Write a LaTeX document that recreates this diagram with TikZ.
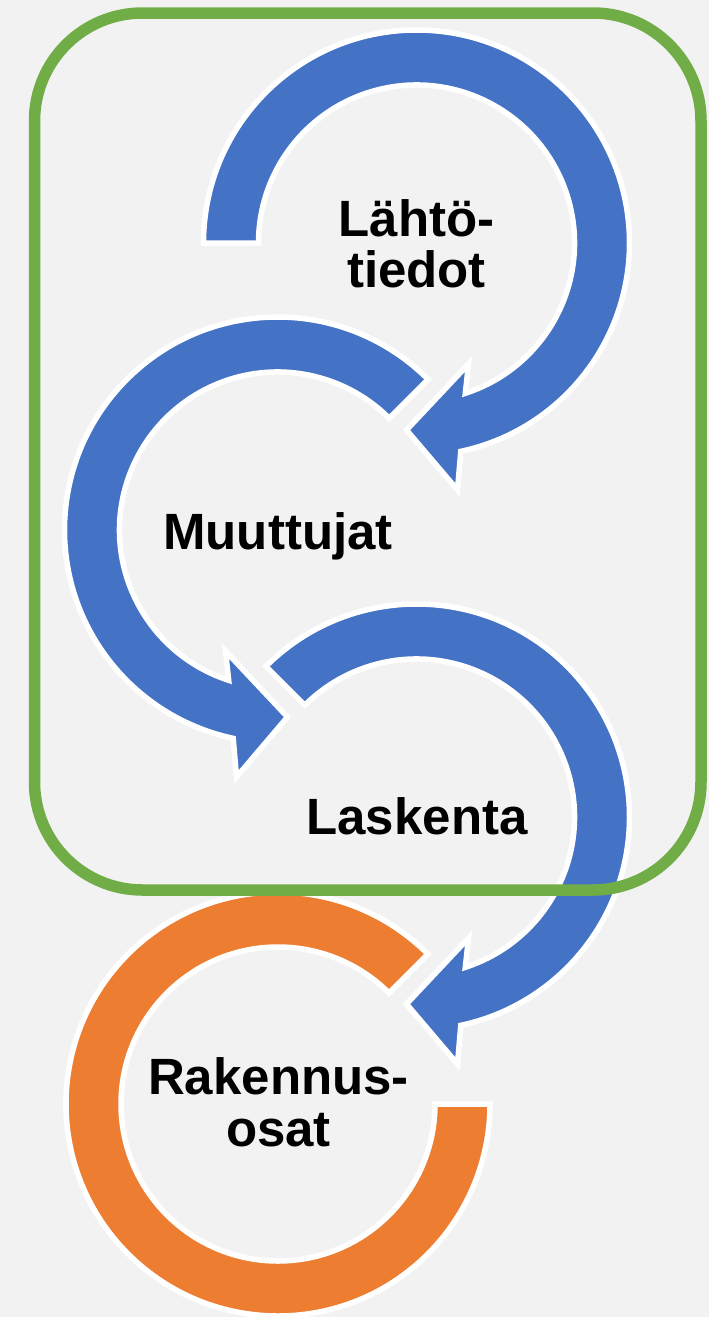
\documentclass[tikz,border=0pt]{standalone}
\usepackage{fontspec}
\setmainfont{Liberation Sans}
\usetikzlibrary{shadows}
\definecolor{bg}{HTML}{F2F2F2}
\definecolor{accblue}{HTML}{4472C4}
\definecolor{accorange}{HTML}{ED7D31}
\definecolor{accgreen}{HTML}{70AD47}

\begin{document}
\begin{tikzpicture}[x=1pt,y=1pt,
  band/.style={draw=white, line width=5.5pt, line join=miter,
    drop shadow={opacity=0.12, shadow xshift=1.5pt, shadow yshift=-1.5pt}},
  lbl/.style={font=\fontsize{51}{51.5}\selectfont\bfseries, align=center,
    text=black, inner sep=0pt},
  frame/.style={draw=accgreen, line width=11.5pt, rounded corners=108pt}]

% page background
\fill[bg] (0,0) rectangle (709,-1317);
\useasboundingbox (0,0) rectangle (709,-1317);

% first step: clockwise arrow starting at the left
\begin{scope}[shift={(416.5,-243)}]
  \filldraw[band, fill=accblue]
    (180:213) arc[start angle=180, end angle=-78, radius=213]
    -- (41,-247) -- (-10,-187) -- (52,-121)
    -- (-72:158) arc[start angle=-72, end angle=180, radius=158] -- cycle;
\end{scope}

% second step: counter-clockwise arrow
\begin{scope}[shift={(277.5,-530)}]
  \filldraw[band, fill=accblue]
    (45:213) arc[start angle=45, end angle=258, radius=213]
    -- (-41,-247) -- (10,-187) -- (-52,-121)
    -- (252:158) arc[start angle=252, end angle=45, radius=158] -- cycle;
\end{scope}

% third step: clockwise arrow
\begin{scope}[shift={(416.5,-817)}]
  \filldraw[band, fill=accblue]
    (135:213) arc[start angle=135, end angle=-78, radius=213]
    -- (41,-247) -- (-10,-187) -- (52,-121)
    -- (-72:158) arc[start angle=-72, end angle=135, radius=158] -- cycle;
\end{scope}

% result: open orange ring
\begin{scope}[shift={(278,-1104)}]
  \filldraw[band, fill=accorange]
    (45:212) arc[start angle=45, end angle=360, radius=212]
    -- (0:157) arc[start angle=360, end angle=45, radius=157] -- cycle;
\end{scope}

% labels
\node[lbl] (lahto) at (416.5,-244) {Lähtö-\\tiedot};
\node[lbl] (muuttujat) at (278,-536.5) {Muuttujat};
\node[lbl] (laskenta) at (417,-816.5) {Laskenta};
\node[lbl] (rakennus) at (278.5,-1102.5) {Rakennus-\\osat};

% green frame around the first three steps
\draw[frame] (34.5,-13) rectangle (701,-890);
\end{tikzpicture}
\end{document}
